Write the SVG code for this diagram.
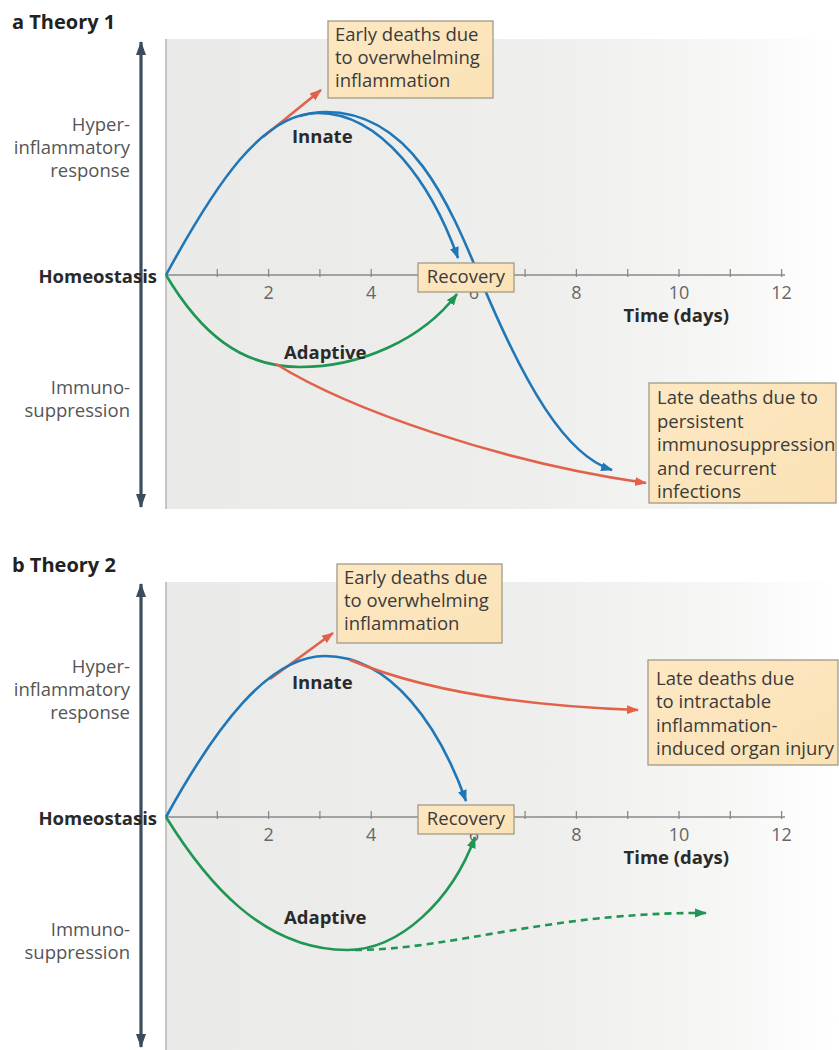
<svg xmlns="http://www.w3.org/2000/svg" width="839" height="1050" viewBox="0 0 839 1050">
<defs>
<linearGradient id="bg" x1="0" y1="0" x2="1" y2="0">
<stop offset="0" stop-color="#eaeae8"/>
<stop offset="0.55" stop-color="#eeeeec"/>
<stop offset="0.82" stop-color="#f6f6f5"/>
<stop offset="1" stop-color="#ffffff"/>
</linearGradient>
<linearGradient id="boxg" x1="0" y1="0" x2="1" y2="1">
<stop offset="0" stop-color="#fde8c3"/>
<stop offset="1" stop-color="#fbe2b6"/>
</linearGradient>
<marker id="mRed" markerUnits="userSpaceOnUse" markerWidth="12" markerHeight="10" refX="11" refY="5" orient="auto"><path d="M0,0.5 L12,5 L0,9.5 z" fill="#e2614a"/></marker>
<marker id="mBlue" markerUnits="userSpaceOnUse" markerWidth="12" markerHeight="10" refX="11" refY="5" orient="auto"><path d="M0,0.5 L12,5 L0,9.5 z" fill="#1f77b7"/></marker>
<marker id="mGreen" markerUnits="userSpaceOnUse" markerWidth="12" markerHeight="10" refX="11" refY="5" orient="auto"><path d="M0,0.5 L12,5 L0,9.5 z" fill="#1f9654"/></marker>
<marker id="mAxis" markerUnits="userSpaceOnUse" markerWidth="14" markerHeight="12" refX="13" refY="6" orient="auto-start-reverse"><path d="M0,1 L14,6 L0,11 z" fill="#3b4d5c"/></marker>
</defs>
<style>
text{font-family:"Open Sans","Noto Sans","Liberation Sans",sans-serif}
.side{font-size:18.5px;fill:#555;text-anchor:end}
.bold{font-size:18.5px;font-weight:bold;fill:#2a2a2a}
.title{font-size:20px;font-weight:bold;fill:#222}
.tick{font-size:18px;fill:#666;text-anchor:middle}
.box{fill:url(#boxg);stroke:#a39a88;stroke-width:1.3}
.bt{font-size:18.5px;fill:#3a3a3a}
.axis{stroke:#8a8a8a;stroke-width:1.3;fill:none}
.vax{stroke:#3b4d5c;stroke-width:3.2;fill:none}
.red{stroke:#e2614a;stroke-width:2.6;fill:none}
.blue{stroke:#1f77b7;stroke-width:2.6;fill:none}
.green{stroke:#1f9654;stroke-width:2.6;fill:none}
</style>

<!-- Panel a -->
<g id="panel-a-bg">
<rect x="166" y="39" width="673" height="470" fill="url(#bg)"/>
<line x1="166" y1="39" x2="166" y2="509" stroke="#b5b5b3" stroke-width="1.5"/>
</g>
<text class="title" x="12" y="29">a  Theory 1</text>
<g id="a-yaxis">
<line class="vax" x1="141" y1="42" x2="141" y2="507" marker-start="url(#mAxis)" marker-end="url(#mAxis)"/>
</g>
<g id="a-labels">
<text class="side" x="130" y="131">Hyper-</text>
<text class="side" x="130" y="154">inflammatory</text>
<text class="side" x="130" y="177">response</text>
<text class="side" x="130" y="394">Immuno-</text>
<text class="side" x="130" y="417">suppression</text>
<text class="bold" x="157" y="283" text-anchor="end">Homeostasis</text>
</g>
<g id="a-xaxis">
<line class="axis" x1="166" y1="275" x2="785" y2="275"/>
<path class="axis" d="M217.3,269v8M268.6,269v8M319.9,269v8M371.2,269v8M422.5,269v8M473.8,269v8M525.1,269v8M576.4,269v8M627.7,269v8M679,269v8M730.3,269v8M781.6,269v8"/>
<text class="tick" x="268.6" y="299">2</text>
<text class="tick" x="371.2" y="299">4</text>
<text class="tick" x="473.8" y="299">6</text>
<text class="tick" x="576.4" y="299">8</text>
<text class="tick" x="679" y="299">10</text>
<text class="tick" x="781.6" y="299">12</text>
<text class="bold" x="729" y="322" text-anchor="end">Time (days)</text>
</g>
<g id="a-connectors">
<path class="red" d="M263,137 L321,90" marker-end="url(#mRed)"/>
<path class="blue" d="M166,275 C215,185 262,113 318,113 C382,113 432,185 458,258" marker-end="url(#mBlue)"/>
<path class="blue" d="M300,116 C310,113 316,112 326,112 C410,112 448,200 482,283 C525,385 565,455 612,470" marker-end="url(#mBlue)"/>
<path class="green" d="M166,275 C200,332 240,367 300,367 C360,367 422,340 457,294" marker-end="url(#mGreen)"/>
<path class="red" d="M276,364 C350,410 500,462 646,483" marker-end="url(#mRed)"/>
</g>
<text class="bold" x="292" y="143">Innate</text>
<text class="bold" x="284" y="359">Adaptive</text>
<g id="a-early">
<rect class="box" x="328" y="21" width="165" height="77"/>
<text class="bt" x="335" y="41">Early deaths due</text>
<text class="bt" x="335" y="64">to overwhelming</text>
<text class="bt" x="335" y="87">inflammation</text>
</g>
<g id="a-recovery">
<rect class="box" x="418" y="263" width="96" height="29"/>
<text class="bt" x="466" y="283" text-anchor="middle">Recovery</text>
</g>
<g id="a-late">
<rect class="box" x="649" y="383" width="187" height="120"/>
<text class="bt" x="657" y="404">Late deaths due to</text>
<text class="bt" x="657" y="427.5">persistent</text>
<text class="bt" x="657" y="451">immunosuppression</text>
<text class="bt" x="657" y="474.5">and recurrent</text>
<text class="bt" x="657" y="498">infections</text>
</g>

<!-- Panel b -->
<g id="panel-b-bg">
<rect x="166" y="582" width="673" height="468" fill="url(#bg)"/>
<line x1="166" y1="582" x2="166" y2="1050" stroke="#b5b5b3" stroke-width="1.5"/>
</g>
<text class="title" x="12" y="572">b  Theory 2</text>
<g id="b-yaxis">
<line class="vax" x1="141" y1="584" x2="141" y2="1047" marker-start="url(#mAxis)" marker-end="url(#mAxis)"/>
</g>
<g id="b-labels">
<text class="side" x="130" y="673">Hyper-</text>
<text class="side" x="130" y="696">inflammatory</text>
<text class="side" x="130" y="719">response</text>
<text class="side" x="130" y="936">Immuno-</text>
<text class="side" x="130" y="959">suppression</text>
<text class="bold" x="157" y="825" text-anchor="end">Homeostasis</text>
</g>
<g id="b-xaxis">
<line class="axis" x1="166" y1="817" x2="785" y2="817"/>
<path class="axis" d="M217.3,811v8M268.6,811v8M319.9,811v8M371.2,811v8M422.5,811v8M473.8,811v8M525.1,811v8M576.4,811v8M627.7,811v8M679,811v8M730.3,811v8M781.6,811v8"/>
<text class="tick" x="268.6" y="841">2</text>
<text class="tick" x="371.2" y="841">4</text>
<text class="tick" x="473.8" y="841">6</text>
<text class="tick" x="576.4" y="841">8</text>
<text class="tick" x="679" y="841">10</text>
<text class="tick" x="781.6" y="841">12</text>
<text class="bold" x="729" y="864" text-anchor="end">Time (days)</text>
</g>
<g id="b-connectors">
<path class="red" d="M270,679 L333,633" marker-end="url(#mRed)"/>
<path class="blue" d="M166,817 C215,728 268,656 325,656 C392,656 440,728 466,801" marker-end="url(#mBlue)"/>
<path class="red" d="M350,660 C422,690 520,706 638,710" marker-end="url(#mRed)"/>
<path class="green" d="M166,817 C205,880 262,950 347,950 C400,950 452,900 475,837" marker-end="url(#mGreen)"/>
<path class="green" d="M355,950 C450,950 550,912 706,913" stroke-dasharray="7 5" stroke-width="3" marker-end="url(#mGreen)"/>
</g>
<text class="bold" x="292" y="689">Innate</text>
<text class="bold" x="284" y="924">Adaptive</text>
<g id="b-early">
<rect class="box" x="337" y="564" width="165" height="79"/>
<text class="bt" x="344" y="584">Early deaths due</text>
<text class="bt" x="344" y="607">to overwhelming</text>
<text class="bt" x="344" y="630">inflammation</text>
</g>
<g id="b-recovery">
<rect class="box" x="418" y="805" width="96" height="29"/>
<text class="bt" x="466" y="825" text-anchor="middle">Recovery</text>
</g>
<g id="b-late">
<rect class="box" x="648" y="660" width="190" height="105"/>
<text class="bt" x="656" y="685">Late deaths due</text>
<text class="bt" x="656" y="708">to intractable</text>
<text class="bt" x="656" y="732">inflammation-</text>
<text class="bt" x="656" y="755">induced organ injury</text>
</g>
</svg>
